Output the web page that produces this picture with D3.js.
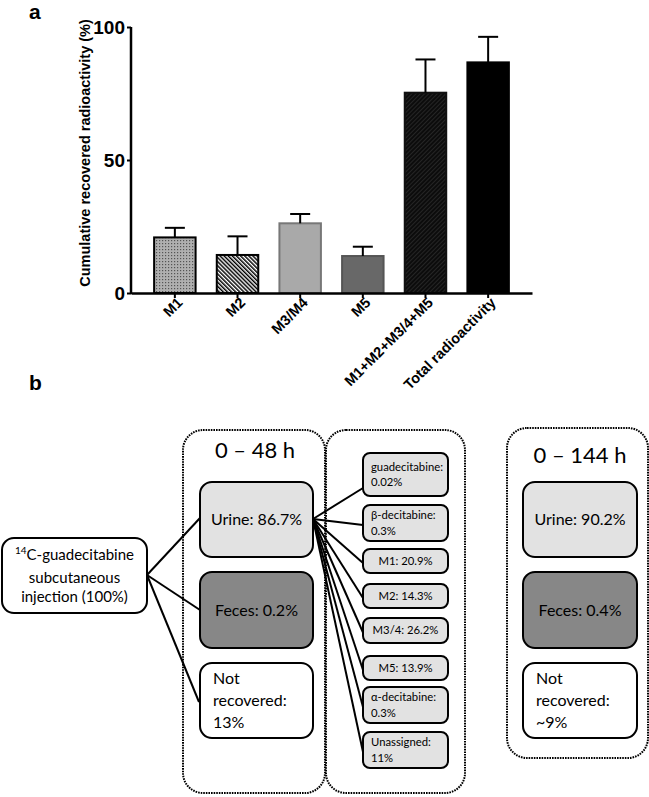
<!DOCTYPE html>
<html>
<head>
<meta charset="utf-8">
<script src="https://cdn.jsdelivr.net/npm/d3@7"></script>
<style>
  body { margin: 0; background: #fff; }
  svg { display: block; }
</style>
</head>
<body>
<div id="fig"></div>
<script>
// panel a data
const categories = ['M1', 'M2', 'M3/M4', 'M5', 'M1+M2+M3/4+M5', 'Total radioactivity']
const means = [20.9, 14.3, 26.2, 13.9, 75.3, 86.7]
const errors = [3.6, 7.0, 3.5, 3.5, 12.5, 9.6]
const yTicks = [0, 50, 100]

// panel b data
const sourceLines = ['C-guadecitabine', 'subcutaneous', 'injection (100%)']
const period1 = '0 – 48 h'
const period2 = '0 – 144 h'
const fractions48 = [['Urine: 86.7%'], ['Feces: 0.2%'], ['Not', 'recovered:', '13%']]
const fractions144 = [['Urine: 90.2%'], ['Feces: 0.4%'], ['Not', 'recovered:', '~9%']]
const urineParts = [
  ['guadecitabine:', '0.02%'], ['β-decitabine:', '0.3%'], ['M1: 20.9%'], ['M2: 14.3%'],
  ['M3/4: 26.2%'], ['M5: 13.9%'], ['α-decitabine:', '0.3%'], ['Unassigned:', '11%']
]

const W = 649
const H = 797
const svg = d3.select('#fig').append('svg').attr('width', W).attr('height', H)
const sans = '"Liberation Sans", Arial, sans-serif'

// patterns for the bars
const defs = svg.append('defs')
const dots = defs.append('pattern').attr('id', 'dots')
  .attr('width', 3).attr('height', 3).attr('patternUnits', 'userSpaceOnUse')
dots.append('rect').attr('width', 3).attr('height', 3).attr('fill', '#b0b0b0')
dots.append('rect').attr('width', 1.2).attr('height', 1.2).attr('fill', '#555')
const stripes = defs.append('pattern').attr('id', 'stripes')
  .attr('width', 2.9).attr('height', 2.9).attr('patternUnits', 'userSpaceOnUse')
  .attr('patternTransform', 'rotate(-45)')
stripes.append('rect').attr('width', 2.9).attr('height', 2.9).attr('fill', '#fff')
stripes.append('rect').attr('width', 1.5).attr('height', 2.9).attr('fill', '#000')
const hatch = defs.append('pattern').attr('id', 'hatch')
  .attr('width', 3).attr('height', 3).attr('patternUnits', 'userSpaceOnUse')
  .attr('patternTransform', 'rotate(45)')
hatch.append('rect').attr('width', 3).attr('height', 3).attr('fill', '#0c0c0c')
hatch.append('rect').attr('width', 1).attr('height', 3).attr('fill', '#252525')

const fills = ['url(#dots)', 'url(#stripes)', '#a9a9a9', '#686868', 'url(#hatch)', '#000']
const strokes = ['#000', '#000', '#777', '#555', '#111', '#000']

// ---- panel a ----
svg.append('text').attr('x', 29).attr('y', 19)
  .attr('font-family', sans).attr('font-weight', 'bold').attr('font-size', 21).text('a')

const x = d3.scaleBand().domain(categories).range([131, 532])
  .paddingInner(0.338).paddingOuter(0.369)
const y = d3.scaleLinear().domain([0, 100]).range([293, 27])

const gA = svg.append('g')

gA.selectAll('rect.bar')
  .data(categories)
  .enter()
  .append('rect')
  .attr('class', 'bar')
  .attr('x', d => x(d))
  .attr('y', (d, i) => y(means[i]))
  .attr('width', x.bandwidth())
  .attr('height', (d, i) => y(0) - y(means[i]))
  .attr('fill', (d, i) => fills[i])
  .attr('stroke', (d, i) => strokes[i])
  .attr('stroke-width', 2)

// error bars (upper only)
const eb = gA.selectAll('g.err').data(categories).enter().append('g')
eb.append('line')
  .attr('x1', d => x(d) + x.bandwidth() / 2)
  .attr('x2', d => x(d) + x.bandwidth() / 2)
  .attr('y1', (d, i) => y(means[i]))
  .attr('y2', (d, i) => y(means[i] + errors[i]))
  .attr('stroke', '#000').attr('stroke-width', 2)
eb.append('line')
  .attr('x1', d => x(d) + x.bandwidth() / 2 - 10)
  .attr('x2', d => x(d) + x.bandwidth() / 2 + 10)
  .attr('y1', (d, i) => y(means[i] + errors[i]))
  .attr('y2', (d, i) => y(means[i] + errors[i]))
  .attr('stroke', '#000').attr('stroke-width', 2)

const yAxis = gA.append('g').attr('transform', 'translate(131,0)')
  .call(d3.axisLeft(y).tickValues(yTicks).tickSize(4).tickPadding(2))
yAxis.attr('font-family', sans).attr('font-size', 19).attr('font-weight', 'bold')
yAxis.select('.domain').attr('stroke-width', 2.5).attr('d', 'M0,' + y(100) + 'V' + (y(0) + 1))
yAxis.selectAll('.tick line').attr('stroke-width', 2)
yAxis.selectAll('.tick text').attr('fill', '#000')

const xAxis = gA.append('g').attr('transform', 'translate(0,' + y(0) + ')')
  .call(d3.axisBottom(x).tickSize(5).tickSizeOuter(0))
xAxis.attr('font-family', sans).attr('font-size', 14.5).attr('font-weight', 'bold')
xAxis.select('.domain').attr('stroke-width', 2.5)
xAxis.selectAll('.tick line').attr('stroke-width', 2)
xAxis.selectAll('.tick text')
  .attr('fill', '#000')
  .attr('text-anchor', 'end')
  .attr('transform', 'translate(5,7) rotate(-45)')
  .attr('dy', '0.35em').attr('y', 0).attr('x', 0)

svg.append('text')
  .attr('transform', 'translate(90,153) rotate(-90)')
  .attr('text-anchor', 'middle')
  .attr('font-family', sans).attr('font-weight', 'bold').attr('font-size', 14.5)
  .text('Cumulative recovered radioactivity (%)')

// ---- panel b ----
svg.append('text').attr('x', 29).attr('y', 390)
  .attr('font-family', sans).attr('font-weight', 'bold').attr('font-size', 21).text('b')

const fontB = '"Lato", "Open Sans", sans-serif'
const gB = svg.append('g')

function container (x0, y0, w, h) {
  gB.append('rect').attr('x', x0).attr('y', y0).attr('width', w).attr('height', h)
    .attr('rx', 20).attr('fill', 'none').attr('stroke', '#000')
    .attr('stroke-width', 2).attr('stroke-dasharray', '1.6,1')
}
container(183, 430, 142, 363)
container(326, 430, 139, 363)
container(507, 428, 141, 330)

function box (x0, y0, w, h, fill, lines, size, align, rx, pad) {
  gB.append('rect').attr('x', x0).attr('y', y0).attr('width', w).attr('height', h)
    .attr('rx', rx).attr('fill', fill).attr('stroke', '#000').attr('stroke-width', 2)
  const lh = size * 1.38
  const t = gB.append('text')
    .attr('text-anchor', align === 'left' ? 'start' : 'middle')
    .attr('font-family', fontB).attr('font-size', size)
  lines.forEach((l, i) => {
    t.append('tspan')
      .attr('x', align === 'left' ? x0 + pad : x0 + w / 2)
      .attr('y', y0 + h / 2 + (i - (lines.length - 1) / 2) * lh)
      .attr('dy', '0.35em').text(l)
  })
  return t
}

// lines from source to fractions
const fracY = [[482, 75], [572, 76], [663, 75]]
const fracFill = ['#e2e2e2', '#878787', '#fff']
const srcPt = [147, 575]
const fracTargets = [[200, 518], [200, 610], [199, 702]]
fracTargets.forEach(p => {
  gB.append('line').attr('x1', srcPt[0]).attr('y1', srcPt[1]).attr('x2', p[0]).attr('y2', p[1])
    .attr('stroke', '#000').attr('stroke-width', 2)
})

// source box
const src = box(2, 538, 145, 75, '#fff', [], 15, 'middle', 12, 0)
sourceLines.forEach((l, i) => {
  const ts = src.append('tspan').attr('x', 74.5).attr('y', 558 + i * 19.5).attr('dy', '0.35em')
  if (i === 0) ts.append('tspan').attr('font-size', '10px').attr('dy', '-0.4em').text('14')
  ts.append('tspan').attr('dy', i === 0 ? '0.4em' : null).text(l)
})

// periods
gB.append('text').attr('x', 255).attr('y', 450).attr('dy', '0.35em').attr('text-anchor', 'middle')
  .attr('font-family', fontB).attr('font-size', 22).text(period1)
gB.append('text').attr('x', 580).attr('y', 455).attr('dy', '0.35em').attr('text-anchor', 'middle')
  .attr('font-family', fontB).attr('font-size', 22).text(period2)

// urine sub-fractions
const partY = [[453, 43], [505, 36], [549, 24], [584, 24], [618, 25], [656, 24], [687, 36], [732, 36]]
const urinePt = [313, 519]
urineParts.forEach((p, i) => {
  const ty = i === 0 ? partY[i][0] + 35 : partY[i][0] + partY[i][1] / 2 + 2
  gB.append('line').attr('x1', urinePt[0]).attr('y1', urinePt[1]).attr('x2', 363).attr('y2', ty)
    .attr('stroke', '#000').attr('stroke-width', 2)
})

fractions48.forEach((f, i) => {
  box(200, fracY[i][0], 113, fracY[i][1], fracFill[i], f, 16, i === 2 ? 'left' : 'middle', 12, 13)
})
fractions144.forEach((f, i) => {
  box(523, fracY[i][0], 114, fracY[i][1], fracFill[i], f, 16, i === 2 ? 'left' : 'middle', 12, 13)
})

urineParts.forEach((p, i) => {
  box(363, partY[i][0], 85, partY[i][1], '#e2e2e2', p, 11.3, p.length > 1 ? 'left' : 'middle', 7, 8)
})
</script>
</body>
</html>
